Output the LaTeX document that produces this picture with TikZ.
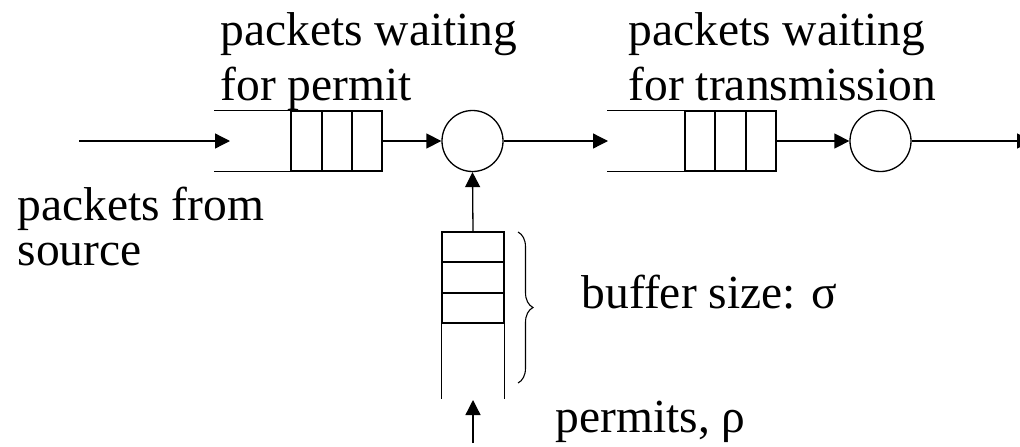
\documentclass[tikz,border=0pt]{standalone}
\usepackage{fontspec}
\setmainfont{Liberation Serif}
\usetikzlibrary{arrows.meta,decorations.pathreplacing}
\begin{document}
\begin{tikzpicture}[x=1pt,y=-1pt,
  line width=1.3pt,
  arr/.style={-{Triangle[length=15pt,width=15pt]}},
  lbl/.style={anchor=base west,inner sep=0pt,font=\fontsize{47.5}{55}\selectfont},
  server/.style={draw,circle,minimum size=61pt,inner sep=0pt},
  qbox/.style={draw,minimum width=91pt,minimum height=60pt,inner sep=0pt},
  vqbox/.style={draw,minimum width=62pt,minimum height=91pt,inner sep=0pt}]
\useasboundingbox (0,0) rectangle (1020,447);
\clip (0,0) rectangle (1020,447);
% labels
\node[lbl] (t1a) at (220,45) {packets waiting};
\node[lbl] (t1b) at (220,100) {for permit};
\node[lbl] (t2a) at (628,45) {packets waiting};
\node[lbl] (t2b) at (628,100) {for transmission};
\node[lbl] (s1) at (17,220) {packets from};
\node[lbl] (s2) at (17,265) {source};
\node[lbl] (bs) at (581,308) {buffer size: σ};
\node[lbl] (pr) at (555,432) {permits, ρ};
% queue 1
\node[qbox] (q1) at (336.5,141) {};
\draw (q1.north west) -- ++(-76,0) coordinate (q1tl);
\draw (q1.south west) -- ++(-76,0) coordinate (q1bl);
\draw (322,111) -- (322,171);
\draw (352,111) -- (352,171);
% server 1
\node[server] (c1) at (472.5,141) {};
% queue 2
\node[qbox] (q2) at (730.5,141) {};
\draw (q2.north west) -- ++(-77,0) coordinate (q2tl);
\draw (q2.south west) -- ++(-77,0) coordinate (q2bl);
\draw (715,111) -- (715,171);
\draw (746,111) -- (746,171);
% server 2
\node[server] (c2) at (880.5,141) {};
% permit buffer
\node[vqbox] (b) at (473,277.5) {};
\draw (442,262) -- (504,262);
\draw (442,293) -- (504,293);
\draw (b.south west) -- ++(0,75) coordinate (bbl);
\draw (b.south east) -- ++(0,75) coordinate (bbr);
\draw[decorate,decoration={brace,amplitude=15pt},line width=1.1pt] (518,232) -- (518,383);
% coordinates for free ends
\coordinate (in) at (79,141);
\coordinate (intip) at (230,141);
\coordinate (q2in) at (608,141);
\coordinate (out) at (1032,141);
\coordinate (pin) at (473,443);
\coordinate (ptip) at (473,400);
% connectors
\draw[arr] (in) -- (intip);
\draw[arr] (q1.east) -- (c1.west);
\draw[arr] (c1.east) -- (q2in);
\draw[arr] (q2.east) -- (c2.west);
\draw[arr] (c2.east) -- (out);
\draw[arr] (b.north) -- (c1.south);
\draw[arr] (pin) -- (ptip);
\end{tikzpicture}
\end{document}
